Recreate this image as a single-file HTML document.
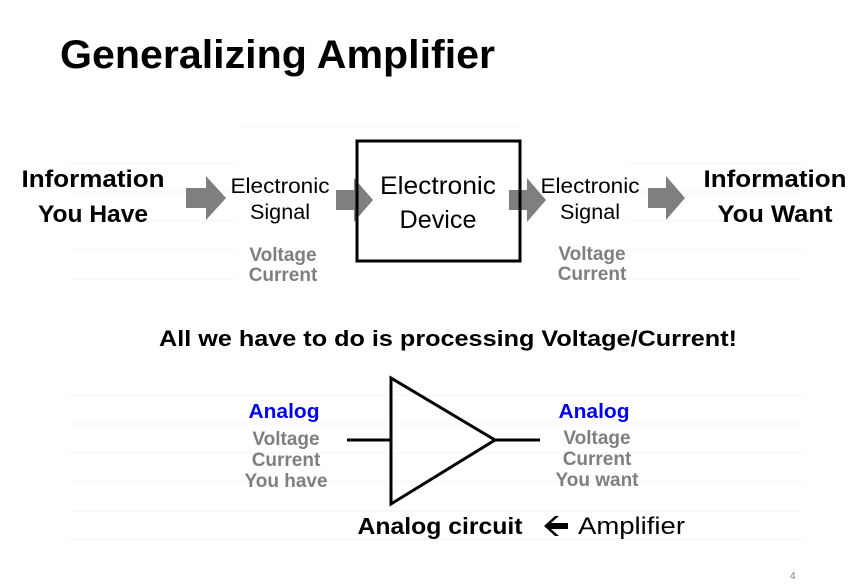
<!DOCTYPE html>
<html><head><meta charset="utf-8"><style>
html,body{margin:0;padding:0;background:#fff;}
svg{display:block;font-family:"Liberation Sans",Arial,sans-serif;}
</style></head><body>
<svg width="851" height="588" viewBox="0 0 851 588" xmlns="http://www.w3.org/2000/svg">
<g stroke="#f6f6f6" stroke-width="1">
<line x1="238" y1="126" x2="520" y2="126"/>
<line x1="70" y1="163" x2="236" y2="163"/>
<line x1="70" y1="192" x2="236" y2="192"/>
<line x1="70" y1="221" x2="236" y2="221"/>
<line x1="70" y1="250" x2="236" y2="250"/>
<line x1="70" y1="279" x2="236" y2="279"/>
<line x1="627" y1="163" x2="803" y2="163"/>
<line x1="627" y1="192" x2="803" y2="192"/>
<line x1="627" y1="221" x2="803" y2="221"/>
<line x1="627" y1="250" x2="803" y2="250"/>
<line x1="627" y1="279" x2="803" y2="279"/>
<line x1="70" y1="395" x2="803" y2="395"/>
<line x1="70" y1="424" x2="803" y2="424"/>
<line x1="70" y1="453" x2="803" y2="453"/>
<line x1="70" y1="482" x2="803" y2="482"/>
<line x1="70" y1="511" x2="803" y2="511"/>
<line x1="70" y1="539" x2="803" y2="539"/>
</g>
<text x="60" y="68" font-size="40" font-weight="bold" textLength="435" lengthAdjust="spacingAndGlyphs">Generalizing Amplifier</text>
<g fill="#7f7f7f">
<polygon points="186,188 206,188 206,176 226,198 206,220 206,208 186,208"/>
<polygon points="336,190 354,190 354,178 373,200 354,222 354,210 336,210"/>
<polygon points="509,190 527,190 527,178 546,200 527,222 527,210 509,210"/>
<polygon points="648,188 666,188 666,176 685,198 666,220 666,208 648,208"/>
</g>
<rect x="357" y="141" width="163" height="120" fill="none" stroke="#000" stroke-width="3"/>
<g text-anchor="middle">
<text x="93" y="187" font-size="24" font-weight="bold" textLength="143" lengthAdjust="spacingAndGlyphs">Information</text>
<text x="93" y="222" font-size="24" font-weight="bold" textLength="110" lengthAdjust="spacingAndGlyphs">You Have</text>
<text x="775" y="187" font-size="24" font-weight="bold" textLength="143" lengthAdjust="spacingAndGlyphs">Information</text>
<text x="775" y="222" font-size="24" font-weight="bold" textLength="115" lengthAdjust="spacingAndGlyphs">You Want</text>
<text x="280" y="193" font-size="21" textLength="99" lengthAdjust="spacingAndGlyphs">Electronic</text>
<text x="280" y="219" font-size="21" textLength="60" lengthAdjust="spacingAndGlyphs">Signal</text>
<text x="590" y="193" font-size="21" textLength="99" lengthAdjust="spacingAndGlyphs">Electronic</text>
<text x="590" y="219" font-size="21" textLength="60" lengthAdjust="spacingAndGlyphs">Signal</text>
<text x="438" y="194" font-size="25" textLength="116" lengthAdjust="spacingAndGlyphs">Electronic</text>
<text x="438" y="228" font-size="25" textLength="77" lengthAdjust="spacingAndGlyphs">Device</text>
<g fill="#7f7f7f" font-size="19" font-weight="bold">
<text x="283" y="261">Voltage</text>
<text x="283" y="281">Current</text>
<text x="592" y="260">Voltage</text>
<text x="592" y="280">Current</text>
<text x="286" y="445">Voltage</text>
<text x="286" y="466">Current</text>
<text x="286" y="487">You have</text>
<text x="597" y="444">Voltage</text>
<text x="597" y="465">Current</text>
<text x="597" y="486">You want</text>
</g>
<text x="448" y="346" font-size="22" font-weight="bold" textLength="578" lengthAdjust="spacingAndGlyphs">All we have to do is processing Voltage/Current!</text>
<g fill="#0000ee" font-size="20" font-weight="bold">
<text x="284" y="418" textLength="71" lengthAdjust="spacingAndGlyphs">Analog</text>
<text x="594" y="418" textLength="71" lengthAdjust="spacingAndGlyphs">Analog</text>
</g>
<text x="440" y="534" font-size="23" font-weight="bold" textLength="165" lengthAdjust="spacingAndGlyphs">Analog circuit</text>
</g>
<polygon points="391,378 391,504 495,440" fill="none" stroke="#000" stroke-width="3" stroke-linejoin="miter"/>
<line x1="347" y1="440" x2="391" y2="440" stroke="#000" stroke-width="3"/>
<line x1="495" y1="440" x2="540" y2="440" stroke="#000" stroke-width="3"/>
<polygon points="544,526 555,516 559,516 551,523 568,523 568,529 551,529 559,536 555,536" fill="#000"/>
<text x="578" y="534" font-size="24" textLength="107" lengthAdjust="spacingAndGlyphs">Amplifier</text>
<text x="790" y="579" font-size="10" fill="#7f7f7f">4</text>
</svg>
</body></html>
